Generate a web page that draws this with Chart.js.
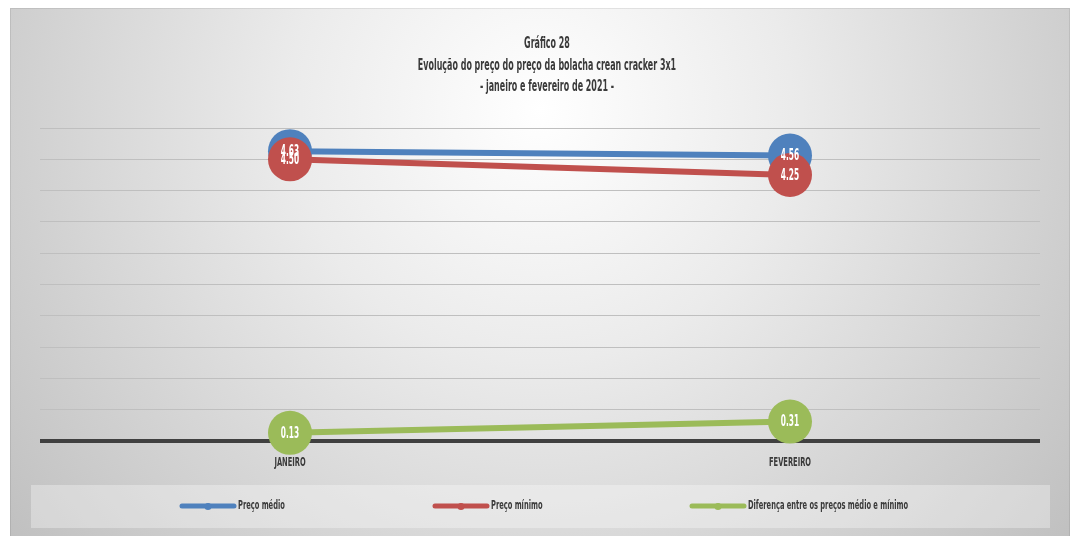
<!DOCTYPE html>
<html>
<head>
<meta charset="utf-8">
<script src="https://cdn.jsdelivr.net/npm/chart.js@4/dist/chart.umd.min.js"></script>
<style>
  html, body { margin: 0; padding: 0; background: #ffffff; }
  #wrap { width: 1074px; height: 536px; position: relative; }
</style>
</head>
<body>
<div id="wrap"><canvas id="c" width="1074" height="536"></canvas></div>
<script>
// Months on the x axis
const categories = ['JANEIRO', 'FEVEREIRO'];

// Prices (R$) per month
const precoMedio = [4.63, 4.56];
const precoMinimo = [4.50, 4.25];
const diferenca = [0.13, 0.31];

const seriesNames = ['Preço médio', 'Preço mínimo', 'Diferença entre os preços médio e mínimo'];
const seriesColors = ['#4F81BD', '#C0504D', '#9BBB59'];

const titleLines = [
  'Gráfico 28',
  'Evolução do preço do preço da bolacha crean cracker 3x1',
  '- janeiro e fevereiro de 2021 -'
];

const FONT = "'DejaVu Sans Condensed', 'Liberation Sans Narrow', sans-serif";
const TEXT_COLOR = '#3a3a3a';

// Draws bold text squeezed horizontally, giving a tall narrow face
function condensedText(ctx, text, x, y, size, squeeze, color, align) {
  ctx.save();
  ctx.translate(x, y);
  ctx.scale(squeeze, 1);
  ctx.font = 'bold ' + size + 'px ' + FONT;
  ctx.fillStyle = color;
  ctx.textAlign = align || 'center';
  ctx.textBaseline = 'middle';
  ctx.fillText(text, 0, 0);
  ctx.restore();
}

// Panel background with soft radial shading and the legend strip
const backgroundPlugin = {
  id: 'panelBackground',
  beforeDraw(chart) {
    const ctx = chart.ctx;
    ctx.save();
    ctx.fillStyle = '#ffffff';
    ctx.fillRect(0, 0, chart.width, chart.height);
    const g = ctx.createRadialGradient(540, 110, 0, 540, 110, 720);
    g.addColorStop(0, '#ffffff');
    g.addColorStop(0.35, '#ebebeb');
    g.addColorStop(1, '#bcbcbc');
    ctx.fillStyle = g;
    ctx.fillRect(10, 8, 1060, 528);
    ctx.strokeStyle = 'rgba(0,0,0,0.08)';
    ctx.lineWidth = 1;
    ctx.strokeRect(10.5, 8.5, 1059, 528);
    ctx.fillStyle = 'rgba(255,255,255,0.32)';
    ctx.fillRect(31, 485, 1019, 43);
    ctx.restore();
  }
};

// Three-line heading above the plot
const headingPlugin = {
  id: 'heading',
  afterDraw(chart) {
    const cx = (chart.chartArea.left + chart.chartArea.right) / 2 + 7;
    const ys = [44, 66, 87];
    titleLines.forEach((t, i) => condensedText(chart.ctx, t, cx, ys[i], 15, 0.59, TEXT_COLOR));
  }
};

// Month names under the axis, placed by the category scale
const monthLabelPlugin = {
  id: 'monthLabels',
  afterDraw(chart) {
    const xs = chart.scales.x;
    xs.ticks.forEach((tk, i) => {
      const x = xs.getPixelForTick(i);
      condensedText(chart.ctx, xs.getLabelForValue(tk.value), x, chart.chartArea.bottom + 22, 12, 0.62, TEXT_COLOR);
    });
  }
};

// Value labels centred in each marker
const valueLabelPlugin = {
  id: 'valueLabels',
  afterDatasetsDraw(chart) {
    chart.data.datasets.forEach((ds, i) => {
      const meta = chart.getDatasetMeta(i);
      meta.data.forEach((pt, j) => {
        condensedText(chart.ctx, ds.data[j].toFixed(2), pt.x, pt.y + 1, 15, 0.55, '#ffffff');
      });
    });
  }
};

// Legend laid out in fixed columns along the bottom strip
const legendPlugin = {
  id: 'columnLegend',
  afterDraw(chart) {
    const ctx = chart.ctx;
    const starts = [180, 433, 690];
    const y = 506;
    chart.data.datasets.forEach((ds, i) => {
      const x = starts[i];
      ctx.save();
      ctx.strokeStyle = ds.borderColor;
      ctx.lineWidth = 5;
      ctx.lineCap = 'round';
      ctx.beginPath();
      ctx.moveTo(x + 2, y);
      ctx.lineTo(x + 54, y);
      ctx.stroke();
      ctx.fillStyle = ds.borderColor;
      ctx.beginPath();
      ctx.arc(x + 28, y + 0.5, 3.5, 0, Math.PI * 2);
      ctx.fill();
      ctx.restore();
      condensedText(ctx, ds.label, x + 58, y, 12, 0.62, TEXT_COLOR, 'left');
    });
  }
};

function makeDataset(label, data, color, order) {
  return {
    label: label,
    data: data,
    borderColor: color,
    backgroundColor: color,
    borderWidth: 6,
    pointRadius: 22,
    pointHoverRadius: 22,
    pointBackgroundColor: color,
    pointBorderColor: color,
    pointBorderWidth: 0,
    tension: 0,
    clip: false,
    order: order
  };
}

new Chart(document.getElementById('c'), {
  type: 'line',
  data: {
    labels: categories,
    datasets: [
      makeDataset(seriesNames[0], precoMedio, seriesColors[0], 3),
      makeDataset(seriesNames[1], precoMinimo, seriesColors[1], 2),
      makeDataset(seriesNames[2], diferenca, seriesColors[2], 1)
    ]
  },
  options: {
    responsive: false,
    animation: false,
    events: [],
    layout: { padding: { top: 128, left: 40, right: 34, bottom: 55 } },
    plugins: {
      legend: { display: false },
      tooltip: { enabled: false },
      title: { display: false }
    },
    scales: {
      x: {
        offset: true,
        grid: { display: false, drawTicks: false },
        border: { display: false },
        ticks: { display: false },
        afterFit(scale) { scale.height = 40; }
      },
      y: {
        min: 0,
        max: 5,
        ticks: { display: false, stepSize: 0.5 },
        border: { display: false },
        grid: {
          drawTicks: false,
          color: (c) => (c.tick && c.tick.value === 0 ? '#404040' : '#bfbfbf'),
          lineWidth: (c) => (c.tick && c.tick.value === 0 ? 4 : 1)
        },
        afterFit(scale) { scale.width = 0; }
      }
    }
  },
  plugins: [backgroundPlugin, headingPlugin, monthLabelPlugin, valueLabelPlugin, legendPlugin]
});
</script>
</body>
</html>
